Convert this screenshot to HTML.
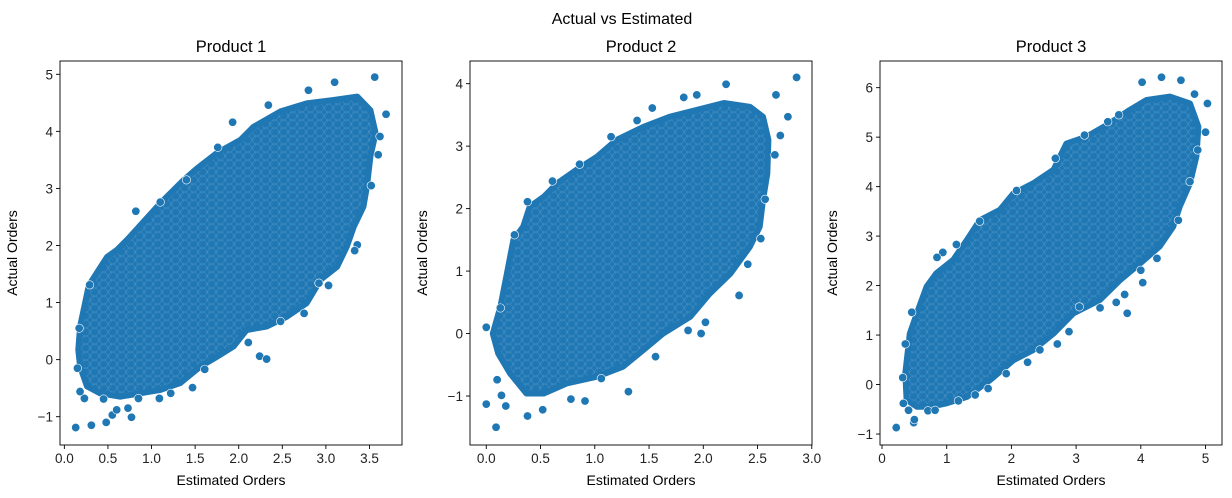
<!DOCTYPE html>
<html><head><meta charset="utf-8"><style>
html,body{margin:0;padding:0;background:#fff;}
svg{display:block;font-family:"Liberation Sans","DejaVu Sans",sans-serif;}
</style></head><body>
<svg id="fig" width="1232" height="498" viewBox="0 0 1232 498" xmlns="http://www.w3.org/2000/svg">
<defs>
<pattern id="speckle" width="9" height="8" patternUnits="userSpaceOnUse">
<rect width="9" height="8" fill="#1f77b4"/>
<circle cx="4.5" cy="4" r="4" fill="none" stroke="#fff" stroke-width="0.5" stroke-opacity="0.22"/>
<circle cx="0" cy="0" r="4" fill="none" stroke="#fff" stroke-width="0.4" stroke-opacity="0.14"/>
</pattern>
</defs>
<rect width="1232" height="498" fill="#fff"/>
<text x="622" y="24" text-anchor="middle" font-size="16">Actual vs Estimated</text>
</svg>
<script>
// Product 1 data
const p1HullX=[0.18,0.28,0.49,0.6,0.72,0.91,1.1,1.37,1.52,1.75,2.02,2.17,2.48,2.78,3.09,3.36,3.51,3.57,3.51,3.47,3.43,3.32,3.24,3.13,2.94,2.78,2.55,2.32,2.09,1.94,1.75,1.56,1.33,1.1,0.87,0.64,0.41,0.26,0.18,0.16];
const p1HullY=[0.58,1.3,1.8,1.92,2.1,2.42,2.74,3.15,3.35,3.62,3.85,4.08,4.35,4.49,4.55,4.61,4.37,3.97,3.56,3.03,2.68,2.33,1.98,1.63,1.4,0.99,0.75,0.58,0.52,0.23,0.05,-0.12,-0.41,-0.53,-0.59,-0.65,-0.59,-0.47,-0.12,0.17];
const p1X=[0.13,0.31,0.48,0.55,0.6,0.73,0.77,0.15,0.17,0.29,0.82,1.1,1.4,1.76,1.93,2.34,2.8,3.1,3.56,3.69,3.62,3.6,3.52,3.36,3.33,3.03,2.92,2.75,2.48,2.24,2.32,1.61,1.47,1.22,1.09,0.85,0.45,0.23,0.18,2.11];
const p1Y=[-1.19,-1.15,-1.1,-0.97,-0.88,-0.85,-1.01,-0.15,0.55,1.31,2.6,2.76,3.15,3.72,4.16,4.46,4.72,4.86,4.95,4.3,3.91,3.59,3.05,2.01,1.91,1.3,1.34,0.81,0.67,0.06,0.01,-0.17,-0.49,-0.59,-0.68,-0.68,-0.69,-0.68,-0.56,0.3];
const p1XTicks=[0.0,0.5,1.0,1.5,2.0,2.5,3.0,3.5];
const p1YTicks=[-1,0,1,2,3,4,5];
// Product 2 data
const p2HullX=[0.06,0.13,0.19,0.25,0.34,0.4,0.53,0.65,0.83,1.02,1.2,1.45,1.69,1.94,2.19,2.43,2.55,2.6,2.59,2.55,2.52,2.43,2.25,2.06,1.88,1.63,1.45,1.26,1.02,0.74,0.53,0.37,0.22,0.11];
const p2HullY=[0.0,0.43,0.96,1.5,1.71,2.03,2.19,2.4,2.62,2.83,3.1,3.31,3.47,3.58,3.69,3.63,3.47,3.1,2.56,2.14,1.71,1.39,0.96,0.64,0.27,0.0,-0.26,-0.53,-0.69,-0.8,-0.96,-0.96,-0.64,-0.32];
const p2X=[0.0,0.0,0.09,0.18,0.14,0.1,0.38,0.52,0.78,0.91,1.31,1.06,1.56,2.02,1.98,1.86,2.33,2.41,2.53,2.57,2.66,2.71,2.78,2.86,2.67,2.21,1.94,1.82,1.53,1.39,1.15,0.86,0.61,0.38,0.26,0.13];
const p2Y=[0.1,-1.13,-1.5,-1.16,-0.99,-0.74,-1.32,-1.22,-1.05,-1.08,-0.93,-0.72,-0.37,0.18,0.0,0.05,0.61,1.11,1.52,2.15,2.86,3.17,3.47,4.1,3.82,3.99,3.82,3.78,3.61,3.41,3.15,2.71,2.44,2.11,1.58,0.41];
const p2XTicks=[0.0,0.5,1.0,1.5,2.0,2.5,3.0];
const p2YTicks=[-1,0,1,2,3,4];
// Product 3 data
const p3HullX=[0.36,0.43,0.54,0.69,0.84,1.1,1.31,1.51,1.82,2.03,2.34,2.65,2.85,3.16,3.52,3.83,4.09,4.45,4.76,4.89,4.86,4.76,4.6,4.5,4.29,3.99,3.68,3.37,2.96,2.65,2.34,2.03,1.67,1.31,1.0,0.74,0.54,0.38];
const p3HullY=[0.23,1.03,1.44,1.98,2.25,2.52,2.92,3.32,3.53,3.86,4.07,4.34,4.87,5.01,5.28,5.55,5.75,5.82,5.68,5.21,4.61,4.07,3.59,3.19,2.79,2.45,2.11,1.71,1.44,1.03,0.7,0.49,0.09,-0.25,-0.38,-0.45,-0.45,-0.31];
const p3X=[0.22,0.49,0.5,0.33,0.41,0.71,0.82,1.18,1.44,1.64,1.92,2.25,2.44,2.71,2.89,3.05,3.37,3.62,3.79,3.75,4.03,4.0,4.25,4.58,4.76,4.88,5.0,5.03,4.83,4.62,4.32,4.02,3.66,3.49,3.13,2.68,2.08,1.51,1.15,0.94,0.85,0.46,0.36,0.32];
const p3Y=[-0.87,-0.77,-0.71,-0.38,-0.52,-0.53,-0.52,-0.33,-0.21,-0.08,0.22,0.45,0.7,0.82,1.07,1.57,1.55,1.66,1.44,1.82,2.06,2.31,2.55,3.32,4.1,4.74,5.1,5.68,5.87,6.15,6.21,6.11,5.45,5.31,5.04,4.57,3.92,3.3,2.83,2.67,2.57,1.46,0.82,0.14];
const p3XTicks=[0,1,2,3,4,5];
const p3YTicks=[-1,0,1,2,3,4,5,6];

const NS='http://www.w3.org/2000/svg';
const svg=document.getElementById('fig');
function mk(tag,attrs,parent){const e=document.createElementNS(NS,tag);for(const k in attrs)e.setAttribute(k,attrs[k]);(parent||svg).appendChild(e);return e;}
function fmt(v,dec){const s=v.toFixed(dec);return s.replace('-','\u2212');}

function panel(cfg){
  const {left,right,top,bottom,xmin,xmax,ymin,ymax}=cfg;
  const sx=v=>left+(v-xmin)/(xmax-xmin)*(right-left);
  const sy=v=>bottom-(v-ymin)/(ymax-ymin)*(bottom-top);
  const g=mk('g',{});
  
  
  const clipId=cfg.name+'-clip';
  const cp=mk('clipPath',{id:clipId},g);mk('rect',{x:left,y:top,width:right-left,height:bottom-top},cp);
  const plot=mk('g',{'clip-path':'url(#'+clipId+')'},g);
  const pts=cfg.hx.map((x,i)=>sx(x).toFixed(1)+','+sy(cfg.hy[i]).toFixed(1)).join(' ');
  const poly=mk('polygon',{points:pts,fill:'url(#speckle)',stroke:'#1f77b4','stroke-width':6,'stroke-linejoin':'round'},plot);
  
  
  cfg.px.forEach((x,i)=>{
    const c=mk('circle',{cx:sx(x),cy:sy(cfg.py[i]),r:4.2,fill:'#1f77b4',stroke:'#fff','stroke-width':0.6},plot);
    
    
  });
  const frame=mk('rect',{x:left,y:top,width:right-left,height:bottom-top,fill:'none',stroke:'#000','stroke-width':0.9},g);
  
  
  cfg.xt.forEach(v=>{
    const x=sx(v);
    mk('line',{x1:x,x2:x,y1:bottom,y2:bottom+4,stroke:'#000','stroke-width':0.9},g);
    const t=mk('text',{x:x,y:bottom+18,'text-anchor':'middle','font-size':13.5,fill:'#222'},g);
    t.textContent=fmt(v,cfg.xdec);
    
    
  });
  cfg.yt.forEach(v=>{
    const y=sy(v);
    mk('line',{x1:left-4,x2:left,y1:y,y2:y,stroke:'#000','stroke-width':0.9},g);
    const t=mk('text',{x:left-7,y:y+5,'text-anchor':'end','font-size':13.5,fill:'#222'},g);
    t.textContent=fmt(v,0);
    
    
  });
  const ti=mk('text',{x:(left+right)/2,y:top-9,'text-anchor':'middle','font-size':16.5},g);
  ti.textContent=cfg.title;
  
  
  const xl=mk('text',{x:(left+right)/2,y:485,'text-anchor':'middle','font-size':14},g);
  xl.textContent='Estimated Orders';
  
  
  const yx=left-43, yy=(top+bottom)/2;
  const yl=mk('text',{x:yx,y:yy,'text-anchor':'middle','font-size':14,transform:'rotate(-90 '+yx+' '+yy+')'},g);
  yl.textContent='Actual Orders';
  
  
}
panel({name:'product-1',title:'Product 1',left:60,right:402,top:61,bottom:445,xmin:-0.05,xmax:3.873,ymin:-1.496,ymax:5.233,hx:p1HullX,hy:p1HullY,px:p1X,py:p1Y,xt:p1XTicks,yt:p1YTicks,xdec:1});
panel({name:'product-2',title:'Product 2',left:470,right:812,top:61,bottom:445,xmin:-0.15,xmax:3.002,ymin:-1.784,ymax:4.363,hx:p2HullX,hy:p2HullY,px:p2X,py:p2Y,xt:p2XTicks,yt:p2YTicks,xdec:1});
panel({name:'product-3',title:'Product 3',left:880,right:1222,top:61,bottom:445,xmin:-0.031,xmax:5.255,ymin:-1.222,ymax:6.539,hx:p3HullX,hy:p3HullY,px:p3X,py:p3Y,xt:p3XTicks,yt:p3YTicks,xdec:0});
</script>
</body></html>
